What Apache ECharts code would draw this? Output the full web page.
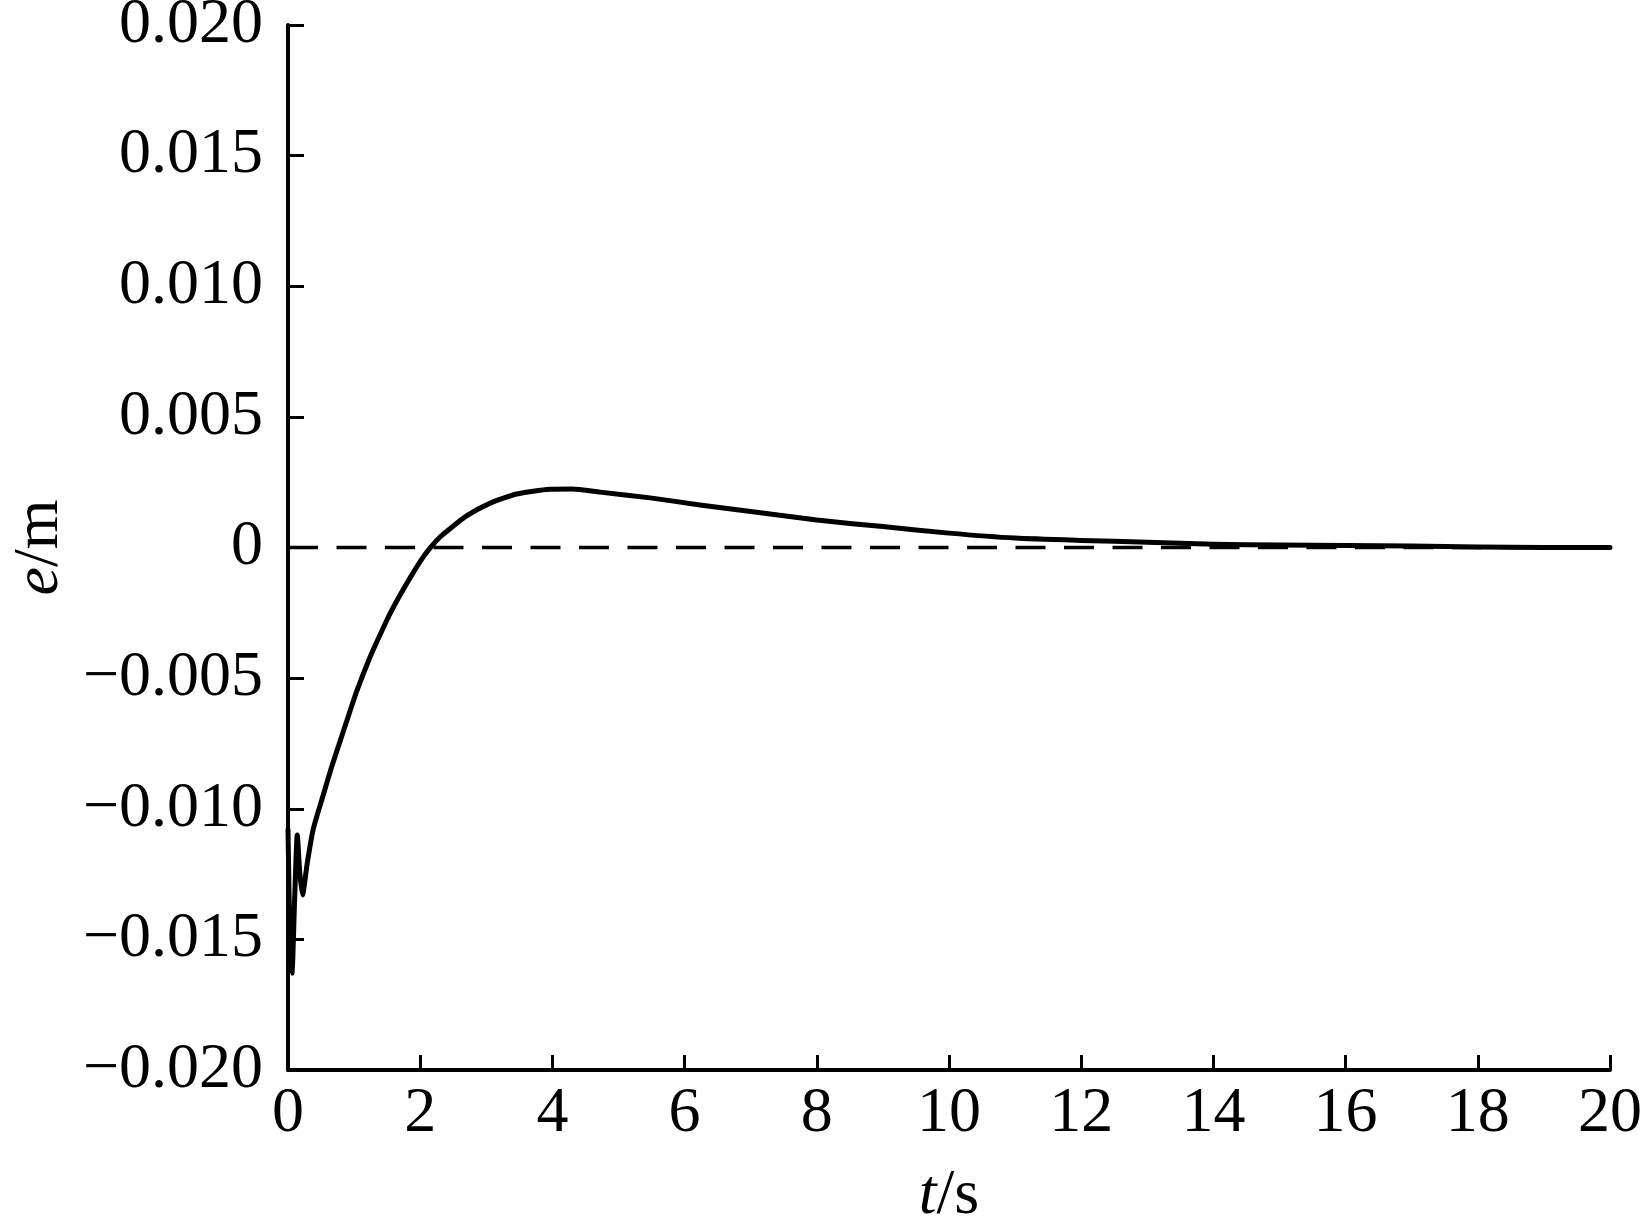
<!DOCTYPE html>
<html>
<head>
<meta charset="utf-8">
<script src="https://cdn.jsdelivr.net/npm/echarts@6/dist/echarts.min.js"></script>
<style>
html,body{margin:0;padding:0;background:#fff;}
#chart{width:1649px;height:1220px;}
</style>
</head>
<body>
<div id="chart"></div>
<script>
// Time (s)
const timeS = [0, 0.03, 0.06, 0.1, 0.14, 0.18, 0.22, 0.29, 0.38, 0.53, 0.66, 0.79, 0.92, 1.04, 1.24, 1.4, 1.54, 1.7, 1.89, 2.05, 2.17, 2.3, 2.45, 2.7, 3.06, 3.46, 3.96, 4.3, 4.72, 5.48, 6.23, 7.0, 8.0, 9.0, 10.0, 11.0, 12.0, 13.0, 14.0, 15.0, 16.0, 17.0, 18.0, 19.0, 20.0];
// Error e (m)
const errorM = [-0.0108, -0.0150, -0.0163, -0.0135, -0.0110, -0.0125, -0.0133, -0.0121, -0.0108, -0.0095, -0.0084, -0.0074, -0.0064, -0.0055, -0.0042, -0.0033, -0.00255, -0.0018, -0.00098, -0.00035, 0.00004, 0.0004, 0.00072, 0.00121, 0.0017, 0.00205, 0.00223, 0.00224, 0.00212, 0.0019, 0.00163, 0.00138, 0.00105, 0.0008, 0.00055, 0.00036, 0.00027, 0.0002, 0.00012, 0.0001, 0.00008, 0.00006, 0.00002, 0.0, 0.0];
// Zero reference line
const zeroT = [0, 20];
const zeroE = [0, 0];
// Axis ranges / ticks
const xMin = 0, xMax = 20, xStep = 2;
const yMin = -0.02, yMax = 0.02, yStep = 0.005;

const font = "'Liberation Serif', 'Times New Roman', serif";
const fs = 64;
const chart = echarts.init(document.getElementById('chart'), null, {renderer: 'canvas'});

function fmtY(v) {
  if (Math.abs(v) < 1e-9) return '0';
  return (v < 0 ? '\u2212' : '') + Math.abs(v).toFixed(3);
}

chart.setOption({
  backgroundColor: '#ffffff',
  animation: false,
  grid: {left: 288, right: 39, top: 25, bottom: 150, containLabel: false, outerBoundsMode: 'none'},
  xAxis: {
    type: 'value', min: xMin, max: xMax, interval: xStep,
    name: '{i|t}/s', nameLocation: 'middle', nameGap: 94,
    nameTextStyle: {fontFamily: font, fontSize: fs, color: '#000',
      rich: {i: {fontFamily: font, fontSize: fs, fontStyle: 'italic', color: '#000'}}},
    axisLine: {show: true, onZero: false, lineStyle: {color: '#000', width: 4}},
    axisTick: {show: true, inside: true, length: 15, lineStyle: {color: '#000', width: 3}},
    axisLabel: {fontFamily: font, fontSize: fs, color: '#000', margin: 12},
    splitLine: {show: false}
  },
  yAxis: {
    type: 'value', min: yMin, max: yMax, interval: yStep,
    name: '{i|e}/m', nameLocation: 'middle', nameGap: 214, nameRotate: 90,
    nameTextStyle: {fontFamily: font, fontSize: fs, color: '#000',
      rich: {i: {fontFamily: font, fontSize: fs, fontStyle: 'italic', color: '#000'}}},
    axisLine: {show: true, onZero: false, lineStyle: {color: '#000', width: 4}},
    axisTick: {show: true, inside: true, length: 16, lineStyle: {color: '#000', width: 3}},
    axisLabel: {fontFamily: font, fontSize: fs, color: '#000', margin: 25, formatter: fmtY},
    splitLine: {show: false}
  },
  series: [
    {
      type: 'line', name: 'zero',
      data: zeroT.map((t, i) => [t, zeroE[i]]),
      showSymbol: false, silent: true, z: 1,
      lineStyle: {color: '#000', width: 3.5, type: [30, 18.5]}
    },
    {
      type: 'line', name: 'e',
      data: timeS.map((t, i) => [t, errorM[i]]),
      showSymbol: false, smooth: 0.2, z: 2,
      lineStyle: {color: '#000', width: 5, join: 'round', cap: 'round'}
    }
  ]
});
</script>
</body>
</html>
